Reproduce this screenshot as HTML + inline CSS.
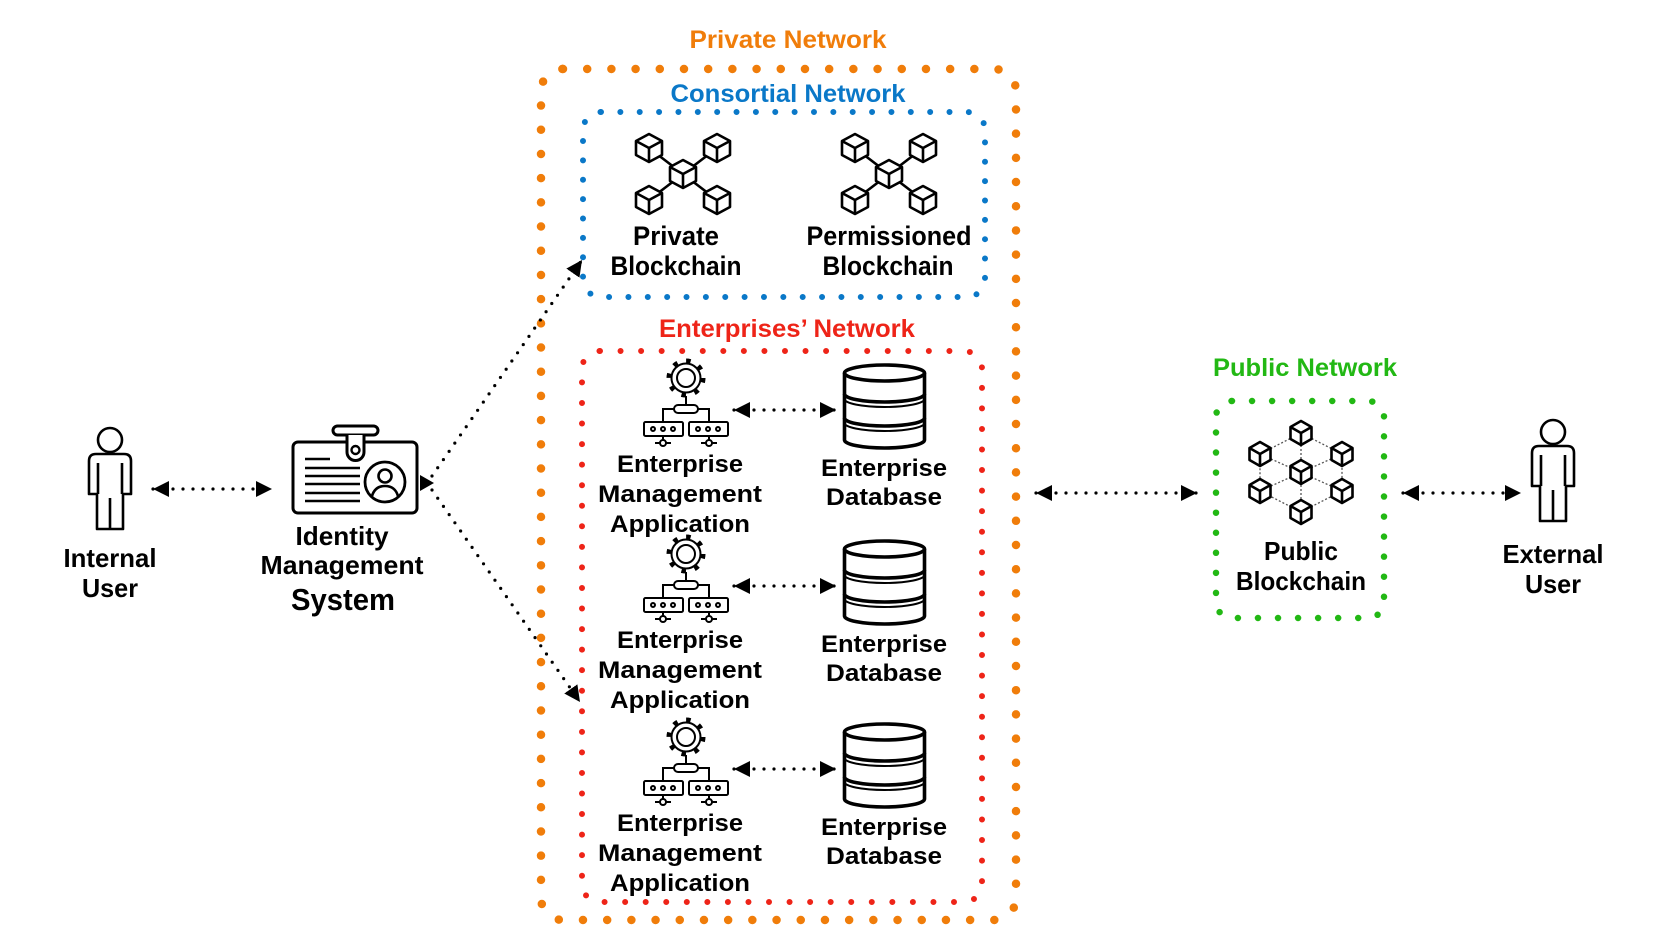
<!DOCTYPE html>
<html><head><meta charset="utf-8"><style>
html,body{margin:0;padding:0;background:#fff;}
svg{display:block;}
text{font-family:"Liberation Sans",sans-serif;font-weight:bold;}
</style></head><body>
<svg width="1661" height="934" viewBox="0 0 1661 934" xmlns="http://www.w3.org/2000/svg">
<defs>
<marker id="ah" markerUnits="userSpaceOnUse" markerWidth="16" markerHeight="16" refX="14" refY="7" orient="auto-start-reverse" viewBox="0 0 14 14">
<polygon points="0,0 14,7 0,14" fill="#000"/>
</marker>
<g id="cube">
<polygon points="0,-14 13,-7 13,7 0,14 -13,7 -13,-7" fill="#fff" stroke="#000" stroke-width="2.6" stroke-linejoin="round"/>
<polyline points="-13,-7 0,0 13,-7" fill="none" stroke="#000" stroke-width="2.6" stroke-linejoin="round"/>
<line x1="0" y1="0" x2="0" y2="14" stroke="#000" stroke-width="2.6"/>
</g>
<g id="scube">
<polygon points="0,-12 10.5,-6 10.5,6 0,12 -10.5,6 -10.5,-6" fill="#fff" stroke="#000" stroke-width="2.6" stroke-linejoin="round"/>
<polyline points="-10.5,-6 0,0 10.5,-6" fill="none" stroke="#000" stroke-width="2.6" stroke-linejoin="round"/>
<line x1="0" y1="0" x2="0" y2="12" stroke="#000" stroke-width="2.6"/>
</g>
<g id="person" fill="none" stroke="#000" stroke-width="2.6" stroke-linejoin="round">
<circle cx="110" cy="440" r="12" fill="#fff"/>
<path d="M96,454 H124 Q131,454 131,461 V494 H123 V529 H97 V494 H89 V461 Q89,454 96,454 Z" fill="#fff"/>
<line x1="98" y1="463" x2="98" y2="494"/>
<line x1="122" y1="463" x2="122" y2="494"/>
<line x1="110" y1="498" x2="110" y2="529"/>
</g>
<g id="row">
<circle cx="686" cy="378" r="17" fill="none" stroke="#000" stroke-width="5" stroke-dasharray="4.5 8.85"/>
<circle cx="686" cy="378" r="14.5" fill="#fff" stroke="#000" stroke-width="2"/>
<circle cx="686" cy="378" r="9" fill="none" stroke="#000" stroke-width="2"/>
<g fill="none" stroke="#000" stroke-width="2">
<line x1="686" y1="396" x2="686" y2="405"/>
<rect x="674" y="405" width="24" height="8" rx="4"/>
<polyline points="674,409 663,409 663,422"/>
<polyline points="698,409 709,409 709,422"/>
<rect x="644" y="422" width="39" height="14" rx="1.5"/>
<rect x="689" y="422" width="39" height="14" rx="1.5"/>
<circle cx="653" cy="429" r="2"/><circle cx="663" cy="429" r="2"/><circle cx="673" cy="429" r="2"/>
<circle cx="698" cy="429" r="2"/><circle cx="708" cy="429" r="2"/><circle cx="718" cy="429" r="2"/>
<line x1="663" y1="436" x2="663" y2="440"/><circle cx="663" cy="443" r="3"/><line x1="655" y1="443" x2="660" y2="443"/><line x1="666" y1="443" x2="671" y2="443"/>
<line x1="709" y1="436" x2="709" y2="440"/><circle cx="709" cy="443" r="3"/><line x1="701" y1="443" x2="706" y2="443"/><line x1="712" y1="443" x2="717" y2="443"/>
</g>
<g fill="none" stroke="#000" stroke-width="3.6">
<ellipse cx="884.5" cy="373" rx="40" ry="8"/>
<path d="M844.5,373 V440 A40,8 0 0 0 924.5,440 V373"/>
<path d="M844.5,394 A40,8 0 0 0 924.5,394"/>
<path d="M844.5,399 A40,8 0 0 0 924.5,399" stroke-width="2"/>
<path d="M844.5,418 A40,8 0 0 0 924.5,418"/>
<path d="M844.5,423 A40,8 0 0 0 924.5,423" stroke-width="2"/>
</g>
<line x1="734" y1="410" x2="836" y2="410" stroke="#000" stroke-width="3.2" stroke-linecap="round" stroke-dasharray="0 10" marker-start="url(#ah)" marker-end="url(#ah)"/>
<g font-size="24" text-anchor="middle" fill="#000">
<text x="680" y="472" textLength="126" lengthAdjust="spacingAndGlyphs">Enterprise</text>
<text x="680" y="502" textLength="164" lengthAdjust="spacingAndGlyphs">Management</text>
<text x="680" y="532" textLength="140" lengthAdjust="spacingAndGlyphs">Application</text>
<text x="884" y="476" textLength="126" lengthAdjust="spacingAndGlyphs">Enterprise</text>
<text x="884" y="505" textLength="116" lengthAdjust="spacingAndGlyphs">Database</text>
</g>
</g>
</defs>

<rect x="541" y="69" width="475" height="851" rx="22" pathLength="108" fill="none" stroke="#f07d0a" stroke-width="8.5" stroke-linecap="round" stroke-dasharray="0 1"/>
<rect x="583" y="112" width="402" height="185" rx="18" pathLength="59" fill="none" stroke="#0a78c8" stroke-width="6" stroke-linecap="round" stroke-dasharray="0 1"/>
<rect x="582" y="351" width="400" height="551" rx="18" pathLength="91" fill="none" stroke="#ee2418" stroke-width="6" stroke-linecap="round" stroke-dasharray="0 1"/>
<rect x="1216" y="401" width="168" height="217" rx="16" pathLength="37" fill="none" stroke="#22b814" stroke-width="6.5" stroke-linecap="round" stroke-dasharray="0 1"/>

<text x="788" y="48" font-size="25" fill="#f07d0a" text-anchor="middle" textLength="197" lengthAdjust="spacingAndGlyphs">Private Network</text>
<text x="788" y="102" font-size="25" fill="#0a78c8" text-anchor="middle" textLength="235" lengthAdjust="spacingAndGlyphs">Consortial Network</text>
<text x="787" y="337" font-size="25" fill="#ee2418" text-anchor="middle" textLength="256" lengthAdjust="spacingAndGlyphs">Enterprises’ Network</text>
<text x="1305" y="376" font-size="25" fill="#22b814" text-anchor="middle" textLength="184" lengthAdjust="spacingAndGlyphs">Public Network</text>

<g stroke="#000" stroke-width="2.6">
<line x1="649" y1="148" x2="717" y2="200"/><line x1="717" y1="148" x2="649" y2="200"/>
<line x1="855" y1="148" x2="923" y2="200"/><line x1="923" y1="148" x2="855" y2="200"/>
</g>
<use href="#cube" x="683" y="174"/>
<use href="#cube" x="649" y="148"/><use href="#cube" x="717" y="148"/>
<use href="#cube" x="649" y="200"/><use href="#cube" x="717" y="200"/>
<use href="#cube" x="889" y="174"/>
<use href="#cube" x="855" y="148"/><use href="#cube" x="923" y="148"/>
<use href="#cube" x="855" y="200"/><use href="#cube" x="923" y="200"/>
<g font-size="27" text-anchor="middle" fill="#000">
<text x="676" y="245" textLength="86" lengthAdjust="spacingAndGlyphs">Private</text>
<text x="676" y="275" textLength="131" lengthAdjust="spacingAndGlyphs">Blockchain</text>
<text x="889" y="245" textLength="165" lengthAdjust="spacingAndGlyphs">Permissioned</text>
<text x="888" y="275" textLength="131" lengthAdjust="spacingAndGlyphs">Blockchain</text>
</g>

<use href="#row"/>
<use href="#row" y="176"/>
<use href="#row" y="359"/>

<g stroke="#555" stroke-width="1.3" stroke-dasharray="2 2" fill="none">
<polygon points="1301,433 1342,454 1342,491 1301,512 1260,491 1260,454"/>
<line x1="1301" y1="433" x2="1301" y2="512"/>
<line x1="1260" y1="454" x2="1342" y2="491"/>
<line x1="1342" y1="454" x2="1260" y2="491"/>
</g>
<use href="#scube" x="1301" y="433"/>
<use href="#scube" x="1260" y="454"/><use href="#scube" x="1342" y="454"/>
<use href="#scube" x="1301" y="472"/>
<use href="#scube" x="1260" y="491"/><use href="#scube" x="1342" y="491"/>
<use href="#scube" x="1301" y="512"/>
<g font-size="26" text-anchor="middle" fill="#000">
<text x="1301" y="560" textLength="74" lengthAdjust="spacingAndGlyphs">Public</text>
<text x="1301" y="590" textLength="130" lengthAdjust="spacingAndGlyphs">Blockchain</text>
</g>

<use href="#person"/>
<use href="#person" x="1443" y="-8"/>
<g font-size="26" text-anchor="middle" fill="#000">
<text x="110" y="567" textLength="93" lengthAdjust="spacingAndGlyphs">Internal</text>
<text x="110" y="597" textLength="56" lengthAdjust="spacingAndGlyphs">User</text>
<text x="1553" y="563" textLength="101" lengthAdjust="spacingAndGlyphs">External</text>
<text x="1553" y="593" textLength="56" lengthAdjust="spacingAndGlyphs">User</text>
</g>

<g fill="none" stroke="#000" stroke-width="3">
<rect x="293" y="442" width="124" height="71" rx="5"/>
<rect x="333" y="426" width="45" height="9" rx="4.5" fill="#fff"/>
<path d="M347,435 V452 A8.5,8.5 0 0 0 364,452 V435" fill="#fff"/>
<circle cx="355.5" cy="450" r="4" stroke-width="2.4"/>
<circle cx="385" cy="482" r="20" stroke-width="2.8"/>
<circle cx="385" cy="476" r="6.5" stroke-width="2.6"/>
<path d="M372,496 Q375,486 385,486 Q395,486 398,496" stroke-width="2.6"/>
<g stroke-width="2.4">
<line x1="305" y1="459" x2="330" y2="459"/>
<line x1="305" y1="468" x2="360" y2="468"/>
<line x1="305" y1="476" x2="360" y2="476"/>
<line x1="305" y1="484" x2="360" y2="484"/>
<line x1="305" y1="493" x2="360" y2="493"/>
<line x1="305" y1="501" x2="360" y2="501"/>
</g>
</g>
<g text-anchor="middle" fill="#000">
<text x="342" y="545" font-size="26" textLength="93" lengthAdjust="spacingAndGlyphs">Identity</text>
<text x="342" y="574" font-size="26" textLength="163" lengthAdjust="spacingAndGlyphs">Management</text>
<text x="343" y="610" font-size="31" textLength="104" lengthAdjust="spacingAndGlyphs">System</text>
</g>

<g stroke="#000" stroke-width="3.2" stroke-linecap="round" stroke-dasharray="0 10" fill="none">
<line x1="153" y1="489" x2="272" y2="489" marker-start="url(#ah)" marker-end="url(#ah)"/>
<line x1="432" y1="476" x2="582" y2="260" marker-end="url(#ah)"/>
<line x1="432" y1="490" x2="580" y2="702" marker-end="url(#ah)"/>
<line x1="1036" y1="493" x2="1197" y2="493" marker-start="url(#ah)" marker-end="url(#ah)"/>
<line x1="1403" y1="493" x2="1521" y2="493" marker-start="url(#ah)" marker-end="url(#ah)"/>
</g>
<polygon points="420,475 434,483 420,491" fill="#000"/>
</svg>
</body></html>
